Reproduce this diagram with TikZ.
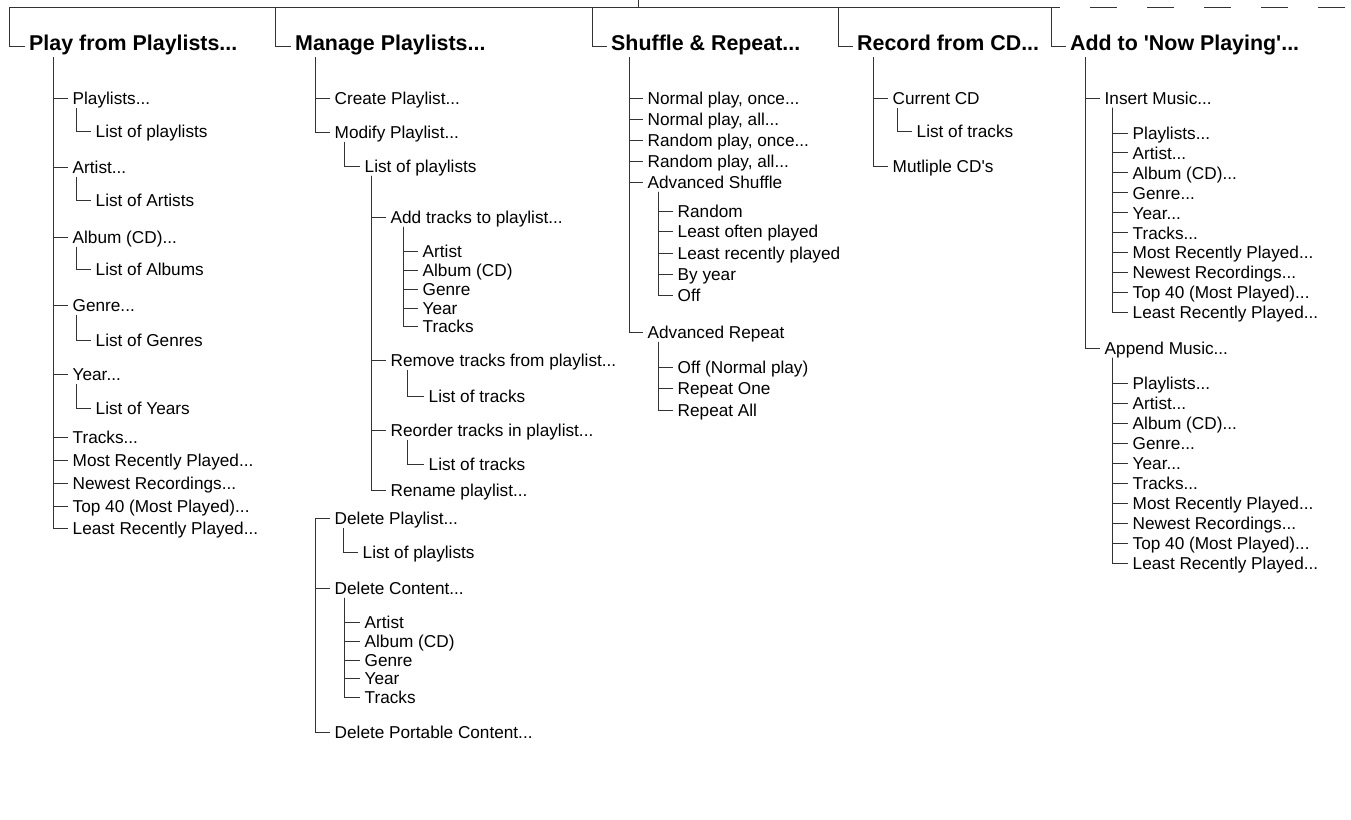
\documentclass[tikz,border=0pt]{standalone}
\usepackage{fontspec}
\setmainfont{Liberation Sans}
\begin{document}
\begin{tikzpicture}[x=1pt,y=-1pt,
  hd/.style={font=\fontsize{21.4}{24}\selectfont\bfseries, anchor=west, inner xsep=4pt, inner ysep=0pt, text height=15pt, text depth=7pt},
  it/.style={font=\fontsize{17.2}{20}\selectfont, anchor=west, inner xsep=4.5pt, inner ysep=0pt, text height=13pt, text depth=0pt},
  ln/.style={line width=1pt, black!80}]
\useasboundingbox (0,0) rectangle (1351,819);

% bus
\coordinate (root) at (638,0);
\coordinate (b1) at (9,7);
\coordinate (b2) at (275,7);
\coordinate (b3) at (592,7);
\coordinate (b4) at (838,7);
\coordinate (b5) at (1051,7);
\coordinate (bend) at (1060,7);
\coordinate (d0) at (1090,7);
\coordinate (d1) at (1351,7);
\draw[ln] (b1) -- (bend);
\draw[ln] (root) -- (root |- b1);
\draw[ln, dash pattern=on 27pt off 30pt] (d0) -- (d1);

% headings
\node[hd] (h1) at (25,46) {Play from Playlists...};
\node[hd] (h2) at (291,46) {Manage Playlists...};
\node[hd] (h3) at (607,46) {Shuffle \& Repeat...};
\node[hd] (h4) at (853,46) {Record from CD...};
\node[hd] (h5) at (1066,46) {Add to \textquotesingle Now Playing\textquotesingle...};
\draw[ln] (b1) |- (h1.west);
\draw[ln] (b2) |- (h2.west);
\draw[ln] (b3) |- (h3.west);
\draw[ln] (b4) |- (h4.west);
\draw[ln] (b5) |- (h5.west);

% column 1
\node[it] (a1) at (68,98) {Playlists...};
\node[it] (sa1) at (91,131) {List of playlists};
\node[it] (a2) at (68,167) {Artist...};
\node[it] (sa2) at (91,200) {List of Artists};
\node[it] (a3) at (68,237) {Album (CD)...};
\node[it] (sa3) at (91,269) {List of Albums};
\node[it] (a4) at (68,305) {Genre...};
\node[it] (sa4) at (91,340) {List of Genres};
\node[it] (a5) at (68,374) {Year...};
\node[it] (sa5) at (91,408) {List of Years};
\node[it] (a6) at (68,437) {Tracks...};
\node[it] (a7) at (68,460) {Most Recently Played...};
\node[it] (a8) at (68,483) {Newest Recordings...};
\node[it] (a9) at (68,506) {Top 40 (Most Played)...};
\node[it] (a10) at (68,528) {Least Recently Played...};
\foreach \nm in {a1,a2,a3,a4,a5,a6,a7,a8,a9,a10}
  \draw[ln] ([xshift=28pt]h1.south west) |- (\nm.west);
\foreach \nm in {a1,a2,a3,a4,a5}
  \draw[ln] ([shift={(8pt,-3pt)}]\nm.south west) |- (s\nm.west);

% column 2
\node[it] (m1) at (330,98) {Create Playlist...};
\node[it] (m2) at (330,132) {Modify Playlist...};
\node[it] (m3) at (360,166) {List of playlists};
\node[it] (m4) at (386,217) {Add tracks to playlist...};
\node[it] (m5) at (418,251) {Artist};
\node[it] (m6) at (418,270) {Album (CD)};
\node[it] (m7) at (418,289) {Genre};
\node[it] (m8) at (418,308) {Year};
\node[it] (m9) at (418,326) {Tracks};
\node[it] (m10) at (386,360) {Remove tracks from playlist...};
\node[it] (m11) at (424,396) {List of tracks};
\node[it] (m12) at (386,430) {Reorder tracks in playlist...};
\node[it] (m13) at (424,464) {List of tracks};
\node[it] (m14) at (386,490) {Rename playlist...};
\node[it] (m15) at (330,518) {Delete Playlist...};
\node[it] (m16) at (358,552) {List of playlists};
\node[it] (m17) at (330,588) {Delete Content...};
\node[it] (m18) at (360,622) {Artist};
\node[it] (m19) at (360,641) {Album (CD)};
\node[it] (m20) at (360,660) {Genre};
\node[it] (m21) at (360,678) {Year};
\node[it] (m22) at (360,697) {Tracks};
\node[it] (m23) at (330,732) {Delete Portable Content...};
\foreach \nm in {m1,m2}
  \draw[ln] ([xshift=24pt]h2.south west) |- (\nm.west);
\draw[ln] ([shift={(14pt,-3pt)}]m2.south west) |- (m3.west);
\foreach \nm in {m4,m10,m12,m14}
  \draw[ln] ([shift={(11pt,-3pt)}]m3.south west) |- (\nm.west);
\foreach \nm in {m5,m6,m7,m8,m9}
  \draw[ln] ([shift={(17pt,-3pt)}]m4.south west) |- (\nm.west);
\draw[ln] ([shift={(21pt,-3pt)}]m10.south west) |- (m11.west);
\draw[ln] ([shift={(21pt,-3pt)}]m12.south west) |- (m13.west);
\draw[ln] ([xshift=-15pt]m15.west) -- (m15.west);
\foreach \nm in {m17,m23}
  \draw[ln] ([xshift=-15pt]m15.west) |- (\nm.west);
\draw[ln] ([shift={(13pt,-3pt)}]m15.south west) |- (m16.west);
\foreach \nm in {m18,m19,m20,m21,m22}
  \draw[ln] ([shift={(14pt,-3pt)}]m17.south west) |- (\nm.west);

% column 3
\node[it] (s1) at (643,98) {Normal play, once...};
\node[it] (s2) at (643,119) {Normal play, all...};
\node[it] (s3) at (643,140) {Random play, once...};
\node[it] (s4) at (643,161) {Random play, all...};
\node[it] (s5) at (643,182) {Advanced Shuffle};
\node[it] (s6) at (673,211) {Random};
\node[it] (s7) at (673,231) {Least often played};
\node[it] (s8) at (673,253) {Least recently played};
\node[it] (s9) at (673,274) {By year};
\node[it] (s10) at (673,295) {Off};
\node[it] (s11) at (643,332) {Advanced Repeat};
\node[it] (s12) at (673,367) {Off (Normal play)};
\node[it] (s13) at (673,388) {Repeat One};
\node[it] (s14) at (673,410) {Repeat All};
\foreach \nm in {s1,s2,s3,s4,s5,s11}
  \draw[ln] ([xshift=22pt]h3.south west) |- (\nm.west);
\foreach \nm in {s6,s7,s8,s9,s10}
  \draw[ln] ([shift={(15pt,-3pt)}]s5.south west) |- (\nm.west);
\foreach \nm in {s12,s13,s14}
  \draw[ln] ([shift={(15pt,-3pt)}]s11.south west) |- (\nm.west);

% column 4
\node[it] (r1) at (888,98) {Current CD};
\node[it] (r2) at (912,131) {List of tracks};
\node[it] (r3) at (888,166) {Mutliple CD\textquotesingle s};
\foreach \nm in {r1,r3}
  \draw[ln] ([xshift=20pt]h4.south west) |- (\nm.west);
\draw[ln] ([shift={(9pt,-3pt)}]r1.south west) |- (r2.west);

% column 5
\node[it] (n1) at (1100,98) {Insert Music...};
\node[it] (n2) at (1128,133) {Playlists...};
\node[it] (n3) at (1128,152.9) {Artist...};
\node[it] (n4) at (1128,172.8) {Album (CD)...};
\node[it] (n5) at (1128,192.7) {Genre...};
\node[it] (n6) at (1128,212.6) {Year...};
\node[it] (n7) at (1128,232.5) {Tracks...};
\node[it] (n8) at (1128,252.4) {Most Recently Played...};
\node[it] (n9) at (1128,272.3) {Newest Recordings...};
\node[it] (n10) at (1128,292.2) {Top 40 (Most Played)...};
\node[it] (n11) at (1128,312.1) {Least Recently Played...};
\node[it] (n12) at (1100,348) {Append Music...};
\node[it] (n13) at (1128,383) {Playlists...};
\node[it] (n14) at (1128,403) {Artist...};
\node[it] (n15) at (1128,423) {Album (CD)...};
\node[it] (n16) at (1128,443) {Genre...};
\node[it] (n17) at (1128,463) {Year...};
\node[it] (n18) at (1128,483) {Tracks...};
\node[it] (n19) at (1128,503) {Most Recently Played...};
\node[it] (n20) at (1128,523) {Newest Recordings...};
\node[it] (n21) at (1128,543) {Top 40 (Most Played)...};
\node[it] (n22) at (1128,563) {Least Recently Played...};
\foreach \nm in {n1,n12}
  \draw[ln] ([xshift=19pt]h5.south west) |- (\nm.west);
\foreach \nm in {n2,n3,n4,n5,n6,n7,n8,n9,n10,n11}
  \draw[ln] ([shift={(12pt,-3pt)}]n1.south west) |- (\nm.west);
\foreach \nm in {n13,n14,n15,n16,n17,n18,n19,n20,n21,n22}
  \draw[ln] ([shift={(12pt,-3pt)}]n12.south west) |- (\nm.west);
\end{tikzpicture}
\end{document}
